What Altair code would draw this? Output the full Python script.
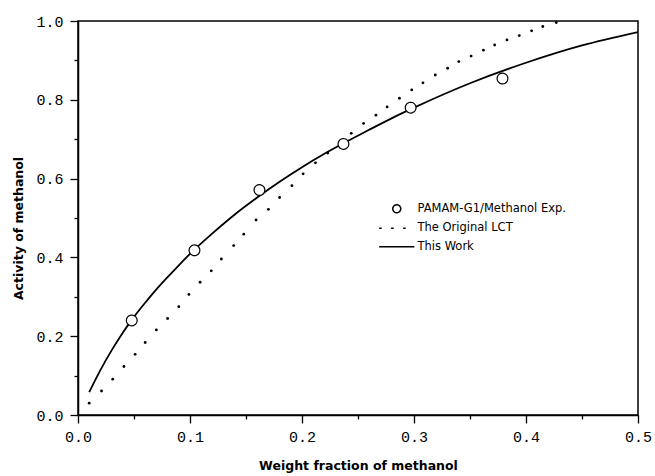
import altair as alt
import pandas as pd

# ---- data ----
series_names = ["PAMAM-G1/Methanol Exp.", "The Original LCT", "This Work"]

exp_x = [0.048, 0.104, 0.162, 0.237, 0.297, 0.379]
exp_y = [0.240, 0.418, 0.571, 0.688, 0.780, 0.854]

# The Original LCT is drawn as a row of small dots (one per computed point)
lct_x = [0.010, 0.021, 0.031, 0.041, 0.051, 0.060, 0.070, 0.080, 0.090, 0.099,
         0.109, 0.119, 0.128, 0.139, 0.148, 0.159, 0.170, 0.180, 0.191, 0.201,
         0.212, 0.223, 0.234, 0.244, 0.255, 0.266, 0.276, 0.287, 0.298, 0.308,
         0.319, 0.330, 0.340, 0.351, 0.362, 0.372, 0.383, 0.394, 0.405, 0.415,
         0.427]
lct_y = [0.030, 0.061, 0.091, 0.123, 0.154, 0.184, 0.216, 0.245, 0.275, 0.306,
         0.337, 0.366, 0.396, 0.430, 0.459, 0.495, 0.522, 0.552, 0.582, 0.612,
         0.640, 0.665, 0.690, 0.715, 0.740, 0.761, 0.782, 0.804, 0.825, 0.843,
         0.863, 0.880, 0.897, 0.911, 0.926, 0.939, 0.952, 0.963, 0.975, 0.986,
         0.996]

work_x = [0.01, 0.02, 0.03, 0.04, 0.05, 0.06, 0.07, 0.08, 0.09, 0.10, 0.12, 0.14,
          0.16, 0.18, 0.20, 0.22, 0.24, 0.26, 0.28, 0.30, 0.35, 0.40, 0.45, 0.50]
work_y = [0.058, 0.114, 0.164, 0.209, 0.249, 0.285, 0.319, 0.350, 0.380, 0.409, 0.461, 0.509,
          0.552, 0.592, 0.629, 0.663, 0.694, 0.724, 0.753, 0.780, 0.842, 0.894, 0.938, 0.972]

x_ticks = [0.0, 0.05, 0.1, 0.15, 0.2, 0.25, 0.3, 0.35, 0.4, 0.45, 0.5]
y_ticks = [0.0, 0.1, 0.2, 0.3, 0.4, 0.5, 0.6, 0.7, 0.8, 0.9, 1.0]

exp_df = pd.DataFrame({"x": exp_x, "y": exp_y, "series": series_names[0]})
lct_df = pd.DataFrame({"x": lct_x, "y": lct_y, "series": series_names[1]})
work_df = pd.DataFrame({"x": work_x, "y": work_y, "series": series_names[2]})

x_major = "abs(datum.value*10 - round(datum.value*10)) < 0.01"
y_major = "abs(datum.value*5 - round(datum.value*5)) < 0.01"

x_axis = alt.Axis(
    values=x_ticks,
    labelExpr=f"{x_major} ? format(datum.value, '.1f') : ''",
    tickSize={"condition": {"test": x_major, "value": 8}, "value": 4},
    labelPadding=6,
    titlePadding=15,
    labelFlush=False,
    labelOverlap=False,
    grid=False,
)
y_axis = alt.Axis(
    values=y_ticks,
    labelExpr=f"{y_major} ? format(datum.value, '.1f') : ''",
    tickSize={"condition": {"test": y_major, "value": 8}, "value": 4},
    labelPadding=7,
    titlePadding=10,
    titleY=207,
    labelFlush=False,
    labelOverlap=False,
    grid=False,
)

x_enc = alt.X("x:Q", scale=alt.Scale(domain=[0, 0.5], nice=False, zero=False),
              axis=x_axis, title="Weight fraction of methanol")
y_enc = alt.Y("y:Q", scale=alt.Scale(domain=[0, 1.0], nice=False),
              axis=y_axis, title="Activity of methanol")

line_path = "M-4.4,0H4.4"

legend_props = dict(
    title=None,
    orient="none",
    legendX=313,
    legendY=182,
    padding=0,
    rowPadding=5.5,
    labelOffset=15,
    labelFont="DejaVu Sans",
    labelFontSize=11.5,
    labelColor="black",
    symbolSize=64,
    symbolStrokeColor="black",
    symbolStrokeWidth=1.5,
)

work_line = alt.Chart(work_df).mark_line(
    color="black", strokeWidth=1.8, interpolate="monotone", clip=True
).encode(x=x_enc, y=y_enc)

lct_dots = alt.Chart(lct_df).mark_circle(
    color="black", size=8, opacity=1, clip=True
).encode(x=x_enc, y=y_enc)

points_bg = alt.Chart(exp_df).mark_circle(
    color="white", size=115, opacity=1
).encode(x=x_enc, y=y_enc)

points = alt.Chart(exp_df).mark_point(
    filled=False, color="black", strokeWidth=1.2, opacity=1, size=115
).encode(
    x=x_enc,
    y=y_enc,
    shape=alt.Shape(
        "series:N",
        scale=alt.Scale(domain=series_names, range=["circle", line_path, line_path]),
        legend=alt.Legend(**legend_props),
    ),
    strokeDash=alt.StrokeDash(
        "series:N",
        scale=alt.Scale(domain=series_names, range=[[1, 0], [2.5, 9.5], [1, 0]]),
        legend=alt.Legend(**legend_props),
    ),
)

chart = alt.layer(work_line, lct_dots, points_bg, points).properties(
    width=560,
    height=394,
    autosize=alt.AutoSizeParams(type="none"),
    padding={"left": 78, "top": 21, "right": 17, "bottom": 61},
    background="white",
).configure_view(
    stroke="black", strokeWidth=1.5
).configure_axis(
    domainColor="black",
    domainWidth=1.5,
    tickColor="black",
    tickWidth=1.3,
    labelFont="Liberation Mono",
    labelFontSize=15,
    labelColor="black",
    titleFont="DejaVu Sans",
    titleFontSize=12.5,
    titleFontWeight="bold",
    titleColor="black",
)

chart.save("out.html", embed_options={"renderer": "svg", "actions": False})
